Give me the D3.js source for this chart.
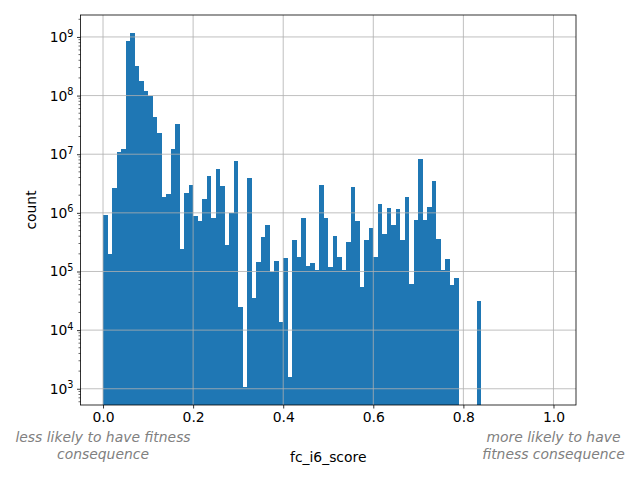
<!DOCTYPE html>
<html><head><meta charset="utf-8">
<script src="https://cdn.jsdelivr.net/npm/d3@7"></script>
<style>body{margin:0;background:#fff}text{font-family:"DejaVu Sans",sans-serif}</style>
</head><body><svg id="c" width="640" height="480"></svg>
<script>
const binStart = d3.range(0, 100).map(i => i / 100);
const binWidth = 0.01;
const counts = [
 9.3e5,1.95e5,2.7e6,1.1e7,1.25e7,8.6e8,1.18e9,3.2e8,1.75e8,1.18e8,
 1.0e8,4.3e7,2.3e7,1.9e6,2.07e6,1.25e7,3.3e7,2.46e5,2.2e6,3.0e6,
 9.0e5,7.2e5,1.69e6,4.2e6,8.1e5,5.7e6,2.9e6,2.8e5,1.0e6,7.8e6,
 2.5e4,1.06e3,4.0e6,3.6e4,1.48e5,3.8e5,6.1e5,9.7e4,1.5e5,1.35e4,
 1.68e5,1.6e3,3.5e5,1.75e5,8.3e5,1.23e5,1.37e5,1.04e5,3.0e6,8.3e5,
 1.18e5,4.1e5,1.75e5,1.04e5,3.2e5,2.8e6,7.4e5,5.4e4,3.4e5,5.6e5,
 1.8e5,1.44e6,4.3e5,1.23e6,6.3e5,1.18e6,3.5e5,1.9e6,6.2e4,7.7e5,
 8.4e6,7.7e5,1.28e6,3.55e6,3.65e5,1.08e5,1.66e5,5.8e4,7.6e4,0,
 0,0,0,3.2e4,0,0,0,0,0,0,
 0,0,0,0,0,0,0,0,0,0];
const xTicks = [0, 0.2, 0.4, 0.6, 0.8, 1.0];
const yTickExps = [3, 4, 5, 6, 7, 8, 9];
const xLabel = "fc_i6_score";
const yLabel = "count";
const leftNote = ["less likely to have fitness", "consequence"];
const rightNote = ["more likely to have", "fitness consequence"];

const L = 80.5, R = 576, T = 15, B = 405;
const svg = d3.select("#c");
const x = d3.scaleLinear().domain([-0.05, 1.05]).range([L, R]);
const pos = counts.filter(c => c > 0);
const lmin = Math.log10(d3.min(pos)), lmax = Math.log10(d3.max(pos));
const m = (lmax - lmin) * 0.05;
const y = d3.scaleLog().domain([Math.pow(10, lmin - m), Math.pow(10, lmax + m)]).range([B, T]);

svg.append("clipPath").attr("id", "cp").append("rect")
  .attr("x", L).attr("y", T).attr("width", R - L).attr("height", B - T);

const data = binStart.map((s, i) => ({s, c: counts[i]})).filter(d => d.c > 0);
const rx = v => Math.round(x(v));
svg.append("g").attr("clip-path", "url(#cp)").selectAll("rect").data(data).join("rect")
  .attr("x", d => rx(d.s)).attr("width", d => rx(d.s + binWidth) - rx(d.s))
  .attr("y", d => y(d.c)).attr("height", d => B - y(d.c))
  .attr("fill", "#1f77b4").attr("shape-rendering", "crispEdges");

// grid on top
const g = svg.append("g").attr("stroke", "#b0b0b0").attr("stroke-width", 0.8);
xTicks.forEach(t => g.append("line").attr("x1", x(t)).attr("x2", x(t)).attr("y1", T).attr("y2", B));
yTickExps.forEach(e => g.append("line").attr("x1", L).attr("x2", R).attr("y1", y(Math.pow(10, e))).attr("y2", y(Math.pow(10, e))));

// axes
const xAxis = d3.axisBottom(x).tickValues(xTicks).tickSize(3.5).tickPadding(3.5).tickFormat(d3.format(".1f"));
const xg = svg.append("g").attr("transform", `translate(0,${B})`).call(xAxis);
xg.select(".domain").remove();
xg.selectAll("line").attr("stroke", "#000").attr("stroke-width", 0.8);
xg.selectAll("text").attr("font-size", 13.9).attr("fill", "#000").attr("font-family", "DejaVu Sans");

const yAxis = d3.axisLeft(y).tickValues(yTickExps.map(e => Math.pow(10, e))).tickSize(3.5).tickPadding(3.5).tickFormat("");
const yg = svg.append("g").attr("transform", `translate(${L},0)`).call(yAxis);
yg.select(".domain").remove();
yg.selectAll("line").attr("stroke", "#000").attr("stroke-width", 0.8);
yg.selectAll(".tick").each(function(d) {
  const e = Math.round(Math.log10(d));
  const t = d3.select(this).append("text").attr("x", -7).attr("y", 0).attr("dy", "0.32em")
    .attr("text-anchor", "end").attr("fill", "#000").attr("font-size", 13.9).attr("font-family", "DejaVu Sans");
  t.append("tspan").text("10");
  t.append("tspan").attr("font-size", 9.7).attr("dy", "-0.55em").text(String(e));
});
// minor ticks
const [d0, d1] = y.domain();
const minors = [];
for (let e = Math.floor(Math.log10(d0)); e <= Math.ceil(Math.log10(d1)); e++) {
  for (let k = 2; k <= 9; k++) { const v = k * Math.pow(10, e); if (v >= d0 && v <= d1) minors.push(v); }
}
svg.append("g").selectAll("line").data(minors).join("line")
  .attr("x1", L - 2).attr("x2", L).attr("y1", d => y(d)).attr("y2", d => y(d))
  .attr("stroke", "#000").attr("stroke-width", 0.6);

// frame
svg.append("rect").attr("x", L).attr("y", T).attr("width", R - L).attr("height", B - T)
  .attr("fill", "none").attr("stroke", "#000").attr("stroke-width", 0.8);

// labels
svg.append("text").attr("x", (L + R) / 2).attr("y", 462).attr("text-anchor", "middle")
  .attr("font-size", 13.9).text(xLabel);
svg.append("text").attr("transform", `translate(36,${(T + B) / 2}) rotate(-90)`).attr("text-anchor", "middle")
  .attr("font-size", 13.9).text(yLabel);
[[leftNote, x(0)], [rightNote, x(1)]].forEach(([lines, cx]) => {
  lines.forEach((s, i) => svg.append("text").attr("x", cx).attr("y", 442 + i * 17)
    .attr("text-anchor", "middle").attr("font-size", 13.9).attr("font-style", "italic")
    .attr("fill", "#808080").text(s));
});
</script></body></html>
